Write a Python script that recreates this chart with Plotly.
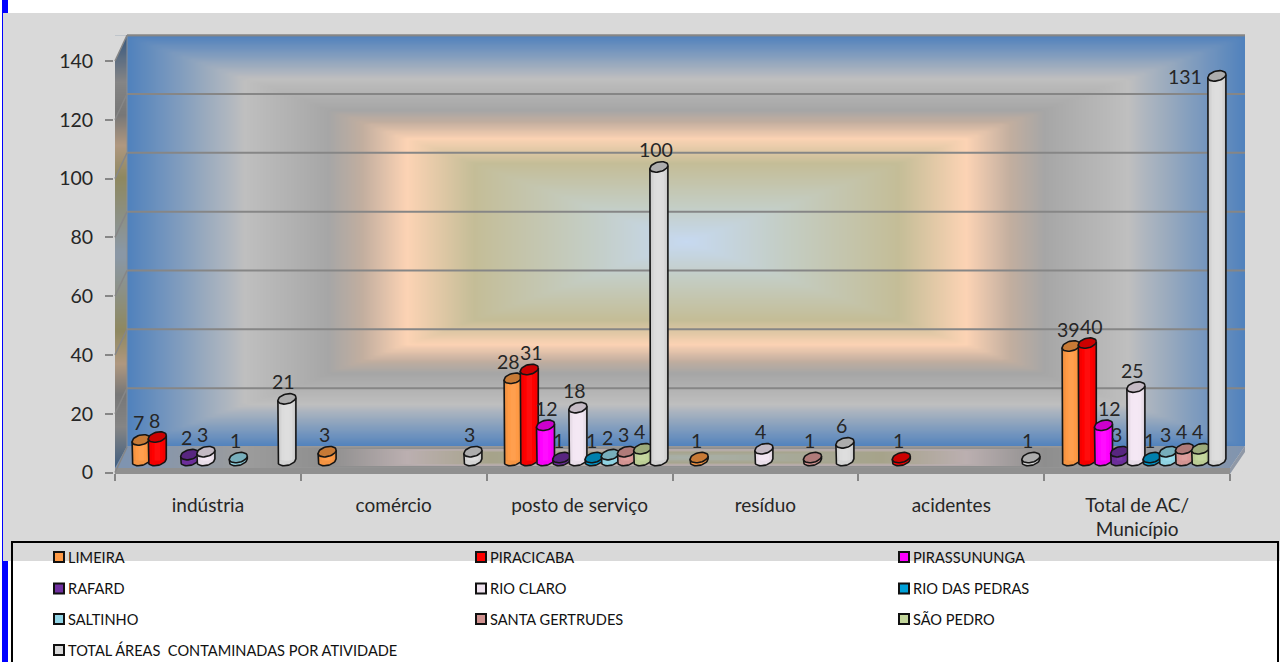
import numpy as np
import plotly.graph_objects as go

W, H = 1280, 662

categories = ["indústria", "comércio", "posto de serviço", "resíduo", "acidentes", "Total de AC/<br>Município"]
municipios = ["LIMEIRA", "PIRACICABA", "PIRASSUNUNGA", "RAFARD", "RIO CLARO", "RIO DAS PEDRAS",
              "SALTINHO", "SANTA GERTRUDES", "SÃO PEDRO", "TOTAL ÁREAS  CONTAMINADAS POR ATIVIDADE"]

limeira = [7, 3, 28, 1, None, 39]
piracicaba = [8, None, 31, None, 1, 40]
pirassununga = [None, None, 12, None, None, 12]
rafard = [2, None, 1, None, None, 3]
rio_claro = [3, None, 18, 4, None, 25]
rio_das_pedras = [None, None, 1, None, None, 1]
saltinho = [1, None, 2, None, None, 3]
santa_gertrudes = [None, None, 3, 1, None, 4]
sao_pedro = [None, None, 4, None, None, 4]
total_areas = [21, 3, 100, 6, 1, 131]
series_values = [limeira, piracicaba, pirassununga, rafard, rio_claro, rio_das_pedras,
                 saltinho, santa_gertrudes, sao_pedro, total_areas]

body_colors = ["#FF9A45", "#FF0000", "#FF00FF", "#7030A0", "#F3E7F3",
               "#00A0D8", "#95DBEA", "#DC9A98", "#C3D69B", "#DCDCDC"]
top_colors = ["#C77A36", "#CC0000", "#CC00CC", "#582680", "#C4BAC4",
              "#0080AD", "#77AEBB", "#B07B79", "#9CAB7C", "#ADADAD"]
legend_colors = ["#FF9A45", "#FF0000", "#FF00FF", "#7030A0", "#F0E4F0",
                 "#00A0D8", "#92D5E6", "#D09290", "#C3D69B", "#D9D9D9"]

value_ticks = [0, 20, 40, 60, 80, 100, 120, 140]
VALUE_RANGE = [0, 140]

FONT = "Lato, 'Open Sans', sans-serif"
TEXT = "#262626"
EDGE = "#868686"
PAGE_GREY = "#D9D9D9"
INK = "#151515"

# Pixel frame of each plane of the oblique box
FRONT_X, FRONT_Y = (115, 1230), (472.5, 61)
BACK_X, BACK_Y = (127, 1245), (447, 35.2)
BAR_X, BAR_Y = (121, 1237), (460.5, 49.5)
FLOOR_BACK, FLOOR_FRONT, FLOOR_EDGE = 446, 468, 474
BAR_FLOOR_DEPTH = 6  # value units kept below zero so the cylinder bases are not clipped

# Label offsets in px, (series index, category index) -> (right, up)
LABEL_OFFSET = (-3, 17)
label_nudges = {(0, 2): (-5, 17), (1, 2): (2, 17), (2, 2): (1, 17), (0, 5): (-3, 17), (1, 5): (4, 17),
                (2, 5): (6, 17), (9, 5): (-32, -1)}


def fx(p):
    return p / W


def fy(p):
    return 1 - p / H


def path(points, close=True):
    d = " ".join(("M" if i == 0 else "L") + f" {fx(x):.5f} {fy(y):.5f}" for i, (x, y) in enumerate(points))
    return d + (" Z" if close else "")


def polygon(points, fill, line=None, width=0, layer="above"):
    return dict(type="path", xref="paper", yref="paper", path=path(points), fillcolor=fill,
                line=dict(color=line or "rgba(0,0,0,0)", width=width), layer=layer)


def stroke(points, color, width):
    return dict(type="path", xref="paper", yref="paper", path=path(points, close=False),
                line=dict(color=color, width=width), layer="above")


def hidden_axis(domain, rng, anchor):
    return dict(domain=domain, range=rng, anchor=anchor, visible=False, showgrid=False, zeroline=False,
                automargin=False)


wall_scale = [[0, "#4F81BD"], [0.21, "#BFBFBF"], [0.36, "#A6A6A6"], [0.42, "#C2AE9F"], [0.5, "#FCD3B4"],
              [0.62, "#C4BD97"], [0.82, "#C4CDC3"], [1, "#C6D9F1"]]
side_scale = [[0, "#36587F"], [0.21, "#858585"], [0.36, "#777777"], [0.5, "#B09880"],
              [0.65, "#8E8860"], [1, "#8A98A8"]]
floor_scale = [[0, "#7F94B0"], [0.21, "#9C9C9C"], [0.36, "#8E8E8E"], [0.5, "#BBAFB0"],
               [0.65, "#A6A38A"], [1, "#A8B0A8"]]

fig = go.Figure()

# Back wall: rectangular gradient, with the horizontal gridlines on top of it
u = np.linspace(0, 1, 221)
v = np.linspace(0, 140, 121)
wall_u = np.minimum(u, 1 - u)[None, :]
wall_v = (np.minimum(v, 140 - v) / 140)[:, None]
fig.add_trace(go.Heatmap(x=u, y=v, z=2 * np.minimum(wall_u * np.ones_like(wall_v), wall_v),
                         colorscale=wall_scale, zmin=0, zmax=1, showscale=False, zsmooth="best",
                         hoverinfo="skip", xaxis="x", yaxis="y"))
grid_x, grid_y = [], []
for tick in value_ticks[1:]:
    grid_x += [0, 1, None]
    grid_y += [tick, tick, None]
fig.add_trace(go.Scatter(x=grid_x, y=grid_y, mode="lines", line=dict(color=EDGE, width=2),
                         hoverinfo="skip", showlegend=False, xaxis="x", yaxis="y"))

# Left side wall
side_y = np.linspace(0, 1, 80)
side_t = 2 * np.minimum(side_y, 1 - side_y)
fig.add_trace(go.Heatmap(x=[0, 1], y=side_y, z=np.column_stack([side_t, side_t]),
                         colorscale=side_scale, zmin=0, zmax=1, showscale=False, zsmooth="best",
                         hoverinfo="skip", xaxis="x2", yaxis="y2"))

# Floor
floor_u = np.linspace(0, 1, 221)
floor_v = np.linspace(0, 1, 15)
floor_t = np.minimum(2 * np.minimum(floor_u, 1 - floor_u)[None, :] * np.ones((15, 1)),
                     (0.25 + 1.6 * np.minimum(floor_v, 1 - floor_v))[:, None])
fig.add_trace(go.Heatmap(x=floor_u, y=floor_v, z=floor_t, colorscale=floor_scale, zmin=0, zmax=1,
                         showscale=False, zsmooth="best", hoverinfo="skip", xaxis="x3", yaxis="y3"))

# Cylinders: one layer group per municipality, later series overlapping earlier ones
n_slots = len(municipios)
px_per_x = (BAR_X[1] - BAR_X[0]) / len(categories)
px_per_y = (BAR_Y[0] - BAR_Y[1]) / 140
slot = 16.2 / px_per_x
RADIUS_PX, MINOR_PX, TILT = 9.0, 5.0, 0.18
theta = np.linspace(0, 2 * np.pi, 37)
lower_half = np.linspace(np.pi, 2 * np.pi, 19)
dx = RADIUS_PX / px_per_x


def ellipse(cx, value, angles):
    xs = cx + dx * np.cos(angles)
    ys = value + (MINOR_PX * np.sin(angles) + TILT * RADIUS_PX * np.cos(angles)) / px_per_y
    return list(xs), list(ys)


def shade(hex_color, k):
    rgb = np.array([int(hex_color[i:i + 2], 16) for i in (1, 3, 5)], dtype=float)
    rgb = rgb * k if k <= 1 else rgb + (255 - rgb) * (k - 1)
    return "rgb({},{},{})".format(*rgb.round().astype(int))


annotations = []
for j, (name, values) in enumerate(zip(municipios, series_values)):
    present = [(i, val) for i, val in enumerate(values) if val is not None]
    centers = [i + (j - (n_slots - 1) / 2) * slot for i, _ in present]
    heights = [val for _, val in present]

    base_x, base_y, outline_x, outline_y, top_x, top_y = [], [], [], [], [], []
    for cx, val in zip(centers, heights):
        ex, ey = ellipse(cx, 0, theta)
        base_x += ex + [None]
        base_y += ey + [None]
        arc_x, arc_y = ellipse(cx, 0, lower_half)
        rim_x, rim_y = ellipse(cx, val, theta)
        # left side, bottom arc and right side as one continuous stroke
        outline_x += [rim_x[18]] + arc_x + [rim_x[0], None]
        outline_y += [rim_y[18]] + arc_y + [rim_y[0], None]
        top_x += rim_x + [None]
        top_y += rim_y + [None]

    fig.add_trace(go.Scatter(x=base_x, y=base_y, mode="lines", fill="toself", fillcolor=shade(body_colors[j], 0.96),
                             line=dict(width=0), name=name, showlegend=False, hoverinfo="skip",
                             xaxis="x4", yaxis="y4", zorder=3 * j))
    for frac, k in [(1.0, 0.86), (0.86, 0.96), (0.6, 1.0), (0.3, 1.05)]:
        fig.add_trace(go.Bar(x=centers, y=heights, width=2 * dx * frac,
                             marker=dict(color=shade(body_colors[j], k), line=dict(width=0)),
                             name=name, showlegend=False, hoverinfo="x+y", xaxis="x4", yaxis="y4", zorder=3 * j + 1))
    fig.add_trace(go.Scatter(x=outline_x, y=outline_y, mode="lines", line=dict(color=INK, width=1.6),
                             name=name, showlegend=False, hoverinfo="skip", xaxis="x4", yaxis="y4", zorder=3 * j + 2))
    fig.add_trace(go.Scatter(x=top_x, y=top_y, mode="lines", fill="toself", fillcolor=top_colors[j],
                             line=dict(color=INK, width=1.6), name=name, showlegend=False, hoverinfo="skip",
                             xaxis="x4", yaxis="y4", zorder=3 * j + 2))

    for (i, val), cx in zip(present, centers):
        shift_x, shift_y = label_nudges.get((j, i), LABEL_OFFSET)
        annotations.append(dict(x=cx, y=val, xref="x4", yref="y4", text=str(val), showarrow=False,
                                xshift=shift_x, yshift=shift_y, font=dict(family=FONT, size=19.5, color=TEXT)))

# Front axes carrying the visible ticks and labels
fig.add_trace(go.Scatter(x=categories, y=[None] * len(categories), mode="markers", showlegend=False,
                         hoverinfo="skip", xaxis="x5", yaxis="y5"))

shapes = [
    # page background and the blue edge strips
    dict(type="rect", xref="paper", yref="paper", x0=fx(3), x1=1, y0=fy(561), y1=fy(13),
         fillcolor=PAGE_GREY, line=dict(width=0), layer="below"),
    dict(type="rect", xref="paper", yref="paper", x0=fx(3), x1=fx(8), y0=fy(13), y1=1,
         fillcolor="#0000FF", line=dict(width=0), layer="below"),
    dict(type="rect", xref="paper", yref="paper", x0=fx(2), x1=fx(3), y0=0, y1=1,
         fillcolor="#0000FF", line=dict(width=0), layer="below"),
    dict(type="rect", xref="paper", yref="paper", x0=fx(2), x1=fx(8), y0=0, y1=fy(561),
         fillcolor="#0000FF", line=dict(width=0), layer="below"),
    # trims of the oblique box
    polygon([(FRONT_X[0], BACK_Y[1]), (BACK_X[0], BACK_Y[1]), (FRONT_X[0], FRONT_Y[1])], PAGE_GREY),
    polygon([(FRONT_X[1], FLOOR_FRONT), (BACK_X[1], FLOOR_BACK), (BACK_X[1], FLOOR_FRONT + 4)], PAGE_GREY),
    polygon([(FRONT_X[0], FLOOR_FRONT), (BACK_X[0], FLOOR_BACK), (BACK_X[0], FLOOR_FRONT)], "#7F94B0"),
    polygon([(FRONT_X[0], FLOOR_FRONT), (FRONT_X[1], FLOOR_FRONT), (FRONT_X[1], FLOOR_EDGE), (FRONT_X[0], FLOOR_EDGE)], "#909090"),
    polygon([(FRONT_X[1], FLOOR_FRONT), (BACK_X[1], FLOOR_BACK), (BACK_X[1], FLOOR_BACK + 6), (FRONT_X[1], FLOOR_EDGE)], "#8F98A6"),
    stroke([(BACK_X[0], BACK_Y[1]), (BACK_X[1], BACK_Y[1])], EDGE, 2),
    stroke([(BACK_X[0], BACK_Y[1]), (BACK_X[0], BACK_Y[0])], "#8A8F96", 1),
]
for tick in value_ticks:
    front_px = FRONT_Y[0] + (FRONT_Y[1] - FRONT_Y[0]) * tick / 140
    back_px = BACK_Y[0] + (BACK_Y[1] - BACK_Y[0]) * tick / 140
    shapes.append(stroke([(FRONT_X[0], front_px), (BACK_X[0], back_px)], EDGE, 1.5))

# Legend panel: three columns inside an open-bottomed black frame
shapes.append(stroke([(12, H), (12, 542), (1278, 542), (1278, H)], "#000000", 2))
legend_columns = [54, 476, 899]
legend_rows = [557, 588.5, 619, 650]
for j, (name, color) in enumerate(zip(municipios, legend_colors)):
    col_x = legend_columns[j % 3]
    row_y = legend_rows[j // 3]
    shapes.append(dict(type="rect", xref="paper", yref="paper", x0=fx(col_x), x1=fx(col_x + 10),
                       y0=fy(row_y + 5), y1=fy(row_y - 5), fillcolor=color,
                       line=dict(color="#111111", width=2), layer="above"))
    annotations.append(dict(x=fx(col_x + 12), y=fy(row_y), xref="paper", yref="paper", text=name.replace("  ", "&nbsp; "),
                            showarrow=False, xanchor="left", yanchor="middle",
                            font=dict(family=FONT, size=14.6, color="#111111")))

fig.update_layout(
    template="none",
    width=W, height=H, autosize=False, margin=dict(l=0, r=0, t=0, b=0, pad=0),
    paper_bgcolor="#FFFFFF", plot_bgcolor="rgba(0,0,0,0)", showlegend=False, barmode="overlay",
    xaxis=hidden_axis([fx(BACK_X[0]), fx(BACK_X[1])], [0, 1], "y"),
    yaxis=hidden_axis([fy(BACK_Y[0]), fy(BACK_Y[1])], VALUE_RANGE, "x"),
    xaxis2=hidden_axis([fx(FRONT_X[0]), fx(BACK_X[0])], [0, 1], "y2"),
    yaxis2=hidden_axis([fy(FRONT_Y[0]), fy(BACK_Y[1])], [0, 1], "x2"),
    xaxis3=hidden_axis([fx(BACK_X[0]), fx(BACK_X[1])], [0, 1], "y3"),
    yaxis3=hidden_axis([fy(FLOOR_FRONT), fy(FLOOR_BACK)], [0, 1], "x3"),
    xaxis4=hidden_axis([fx(BAR_X[0]), fx(BAR_X[1])], [-0.5, len(categories) - 0.5], "y4"),
    yaxis4=hidden_axis([fy(BAR_Y[0] + BAR_FLOOR_DEPTH * px_per_y), fy(BAR_Y[1])], [-BAR_FLOOR_DEPTH, 140], "x4"),
    xaxis5=dict(domain=[fx(FRONT_X[0]), fx(FRONT_X[1])], range=[-0.5, len(categories) - 0.5], anchor="y5",
                type="category", categoryorder="array", categoryarray=categories, tickson="boundaries",
                ticks="outside", ticklen=7, tickwidth=1.5, tickcolor=EDGE, showgrid=False, zeroline=False,
                showline=False, tickangle=0, ticklabelstandoff=19, automargin=False,
                tickfont=dict(family=FONT, size=19, color=TEXT)),
    yaxis5=dict(domain=[fy(FRONT_Y[0]), fy(FRONT_Y[1])], range=VALUE_RANGE, anchor="x5", tickmode="array",
                tickvals=value_ticks, ticks="outside", ticklen=8, tickwidth=1.5, tickcolor=EDGE, showgrid=False,
                zeroline=False, showline=True, linecolor=EDGE, linewidth=2, ticklabelstandoff=8, automargin=False,
                tickfont=dict(family=FONT, size=19.5, color=TEXT)),
    shapes=shapes, annotations=annotations,
)

fig.write_html("out.html", config=dict(displayModeBar=False))
